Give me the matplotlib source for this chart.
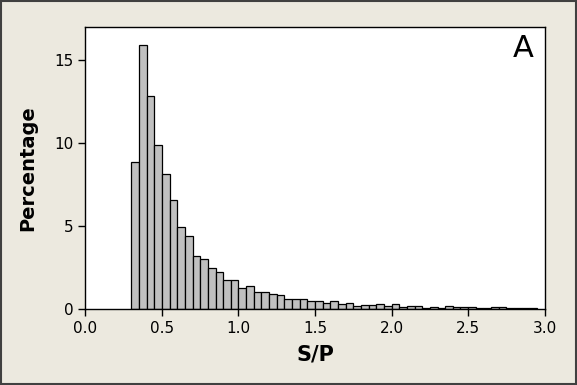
import matplotlib.pyplot as plt
from matplotlib.patches import Rectangle

# histogram bins (left edges) and percentages, bin width 0.05
bin_width = 0.05
bin_starts = [0.30, 0.35, 0.40, 0.45, 0.50, 0.55, 0.60, 0.65, 0.70, 0.75,
              0.80, 0.85, 0.90, 0.95, 1.00, 1.05, 1.10, 1.15, 1.20, 1.25,
              1.30, 1.35, 1.40, 1.45, 1.50, 1.55, 1.60, 1.65, 1.70, 1.75,
              1.80, 1.85, 1.90, 1.95, 2.00, 2.05, 2.10, 2.15, 2.20, 2.25,
              2.30, 2.35, 2.40, 2.45, 2.50, 2.55, 2.60, 2.65, 2.70, 2.75,
              2.80, 2.85, 2.90]
percentages = [8.87, 15.95, 12.85, 9.89, 8.14, 6.58, 4.95, 4.40, 3.20, 3.02,
               2.47, 2.23, 1.75, 1.75, 1.27, 1.40, 1.03, 1.03, 0.91, 0.84,
               0.60, 0.60, 0.60, 0.48, 0.47, 0.36, 0.48, 0.30, 0.36, 0.18,
               0.24, 0.24, 0.30, 0.18, 0.30, 0.12, 0.18, 0.18, 0.06, 0.12,
               0.06, 0.18, 0.12, 0.12, 0.12, 0.06, 0.06, 0.12, 0.12, 0.06,
               0.06, 0.06, 0.06]
xticks = [0.0, 0.5, 1.0, 1.5, 2.0, 2.5, 3.0]
yticks = [0, 5, 10, 15]

bg = '#ECE9DF'
fig = plt.figure(figsize=(5.77, 3.85), dpi=100, facecolor=bg)
fig.patches.append(Rectangle((0.002, 0.003), 0.996, 0.994, transform=fig.transFigure,
                             fill=False, edgecolor='#404040', linewidth=1.5))
ax = fig.add_axes([0.148, 0.197, 0.796, 0.732])
ax.set_facecolor('white')

ax.bar(bin_starts, percentages, width=bin_width, align='edge',
       color='#C0C0C0', edgecolor='black', linewidth=0.9)

ax.set_xlim(0, 3.0)
ax.set_ylim(0, 17)
ax.set_xticks(xticks)
ax.set_xticklabels([f"{t:.1f}" for t in xticks])
ax.set_yticks(yticks)
ax.tick_params(direction='out', length=5, width=1, labelsize=11, colors='black')
for s in ax.spines.values():
    s.set_linewidth(1)
    s.set_color('black')

ax.set_xlabel("S/P", fontsize=15, fontweight='bold', labelpad=6)
ax.set_ylabel("Percentage", fontsize=14, fontweight='bold', labelpad=12)
ax.text(0.975, 0.975, "A", transform=ax.transAxes, fontsize=22,
        ha='right', va='top')

fig.savefig("out.png", dpi=100, facecolor=bg)
